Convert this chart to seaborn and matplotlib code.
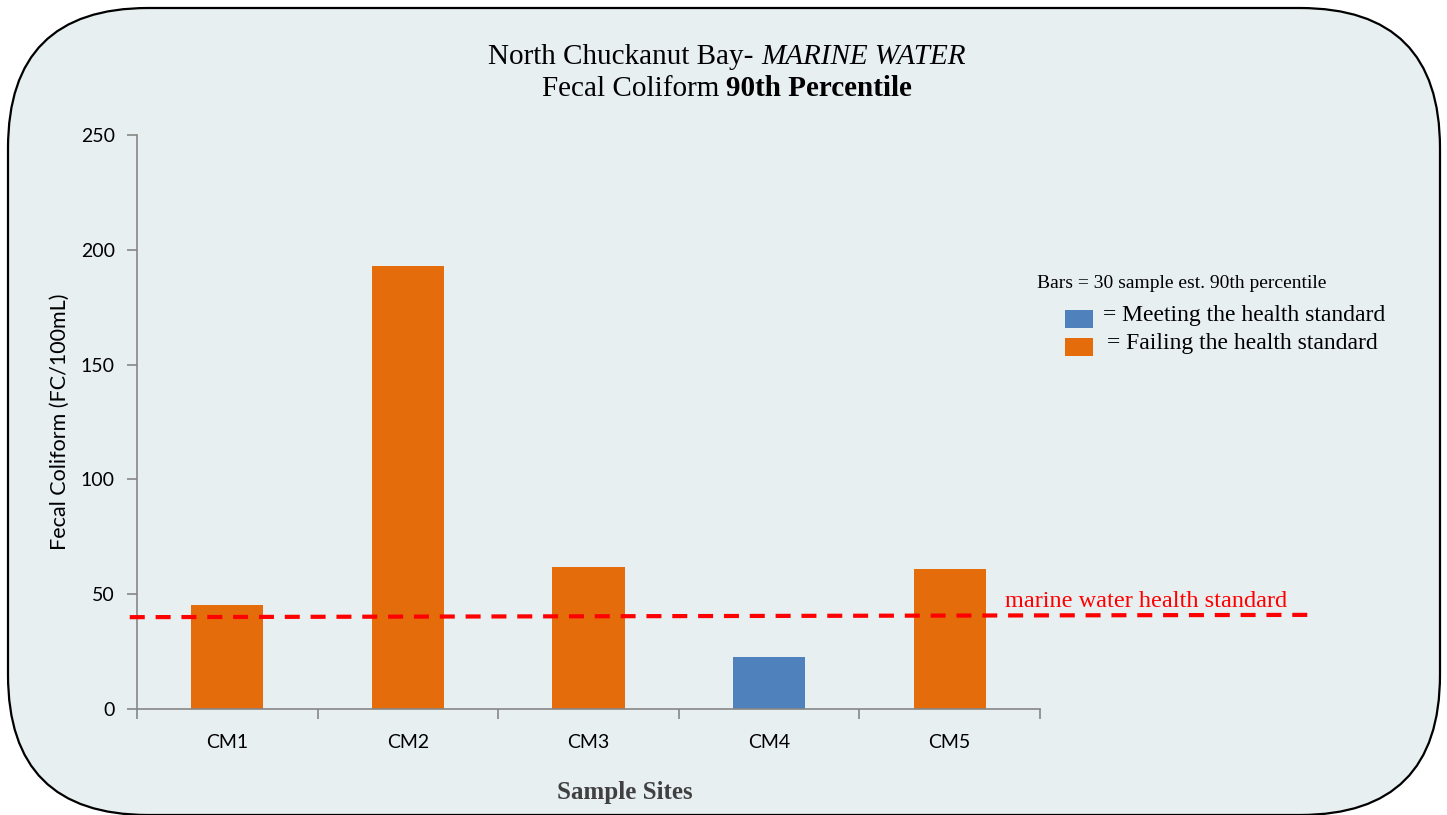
import numpy as np
import pandas as pd
import seaborn as sns
import matplotlib.pyplot as plt
from matplotlib.patches import FancyBboxPatch, Rectangle

# chart data
sites = ['CM1', 'CM2', 'CM3', 'CM4', 'CM5']
fc_90th = [45.3, 193, 61.8, 22.6, 61]
status = ['Failing', 'Failing', 'Failing', 'Meeting', 'Failing']
standard_left = 40
standard_right = 41

colors = {'Meeting': '#4F81BD', 'Failing': '#E46C0A'}
bg = '#E8EFF1'
axis_gray = '#868686'
serif = ['Liberation Serif', 'DejaVu Serif']
sans = ['Lato', 'DejaVu Sans']

df = pd.DataFrame({'site': sites, 'fc': fc_90th, 'status': status})

sns.set_style('white')
plt.rcParams['font.family'] = sans
plt.rcParams['text.color'] = 'black'
plt.rcParams['axes.labelcolor'] = 'black'
plt.rcParams['xtick.color'] = 'black'
plt.rcParams['ytick.color'] = 'black'

W, H = 1447, 815
fig = plt.figure(figsize=(W / 100, H / 100), dpi=100)
fig.patch.set_facecolor('white')

# rounded background panel
panel = FancyBboxPatch((0.08, 0.0), 14.32, 8.07,
                       boxstyle='round,pad=0,rounding_size=1.4',
                       transform=fig.dpi_scale_trans,
                       facecolor=bg, edgecolor='black', linewidth=1.6, zorder=0)
fig.add_artist(panel)

ax = fig.add_axes([137 / W, 1 - 709 / H, 903 / W, 574 / H])
ax.set_facecolor('none')

sns.barplot(data=df, x='site', y='fc', hue='status', palette=colors,
            width=0.4, dodge=False, legend=False, saturation=1,
            edgecolor='none', linewidth=0, ax=ax, zorder=2)

ax.set_xlim(-0.5, 4.5)
ax.set_ylim(0, 250)
ax.set_yticks([0, 50, 100, 150, 200, 250])

for s in ['top', 'right']:
    ax.spines[s].set_visible(False)
for s in ['left', 'bottom']:
    ax.spines[s].set_color(axis_gray)
    ax.spines[s].set_linewidth(1.2)

ax.tick_params(axis='y', which='major', direction='out', length=7, width=1.2,
               color=axis_gray, labelsize=14, pad=9, left=True)
ax.tick_params(axis='x', which='major', length=0, labelsize=14, pad=18)
ax.set_xticks(np.arange(-0.5, 5, 1), minor=True)
ax.tick_params(axis='x', which='minor', direction='out', length=7, width=1.2,
               color=axis_gray, bottom=True)

ax.set_ylabel('Fecal Coliform (FC/100mL)', fontsize=15.5, labelpad=8)
ax.set_xlabel('')
fig.text(625 / W, 1 - 793 / H, 'Sample Sites', fontsize=18, fontweight='bold',
         color='#404040', family=serif, ha='center', va='center')

# health standard line (extends past the axis)
ax.plot([-0.54, 5.995], [standard_left, standard_right], color='#FF0000',
        linestyle=(0, (3.6, 2.6)), linewidth=3, clip_on=False, zorder=3)
ax.text(4.306, 44.4, 'marine water health standard', color='#FF0000',
        fontsize=17.5, family=serif, va='baseline', ha='left', clip_on=False)

# title, each line made of a plain and a styled piece centred together
fig.canvas.draw()
renderer = fig.canvas.get_renderer()


def centred_line(y_px, parts, cx=727):
    texts = [fig.text(0, 1 - y_px / H, s, fontsize=21, family=serif,
                      va='center', **kw) for s, kw in parts]
    widths = [t.get_window_extent(renderer).width for t in texts]
    x = cx - sum(widths) / 2
    for t, w in zip(texts, widths):
        t.set_x(x / W)
        x += w


centred_line(57, [('North Chuckanut Bay- ', {}), ('MARINE WATER', {'style': 'italic'})])
centred_line(89, [('Fecal Coliform ', {}), ('90th Percentile', {'fontweight': 'bold'})])

# legend made by hand
fig.text(1037 / W, 1 - 284 / H, 'Bars = 30 sample est. 90th percentile',
         fontsize=14, family=serif, va='center')
for (y0, key, label, tx) in [(310, 'Meeting', '= Meeting the health standard', 1103),
                             (338, 'Failing', '= Failing the health standard', 1107)]:
    fig.add_artist(Rectangle((1065 / W, 1 - (y0 + 18) / H), 28 / W, 18 / H,
                             transform=fig.transFigure, facecolor=colors[key],
                             edgecolor='none'))
    fig.text(tx / W, 1 - (y0 + 6) / H, label, fontsize=17, family=serif,
             va='center')

fig.savefig('out.png', dpi=100, facecolor='white')
